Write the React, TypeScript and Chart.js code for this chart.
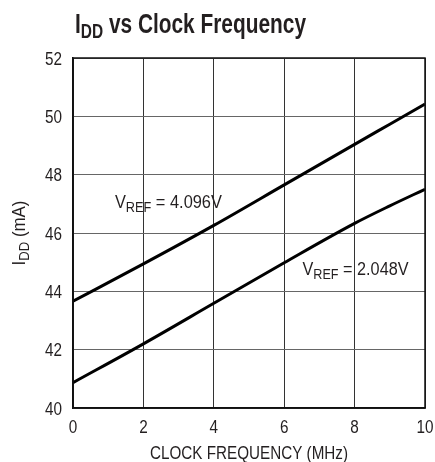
import React, { useEffect, useRef } from "react";
import { Chart, registerables } from "chart.js";
Chart.register(...registerables);

const freqMHz = [0, 2, 4, 6, 8, 9, 10];
const idd4096 = [43.66, 44.94, 46.26, 47.65, 49.04, 49.73, 50.42];
const idd2048 = [40.87, 42.2, 43.59, 44.98, 46.33, 46.93, 47.5];
const xTicks = [0, 2, 4, 6, 8, 10];
const yTicks = [40, 42, 44, 46, 48, 50, 52];

const FONT = '"Liberation Sans", Arial, sans-serif';

type Part = { t: string; sub?: boolean };

function drawParts(
  ctx: CanvasRenderingContext2D,
  x: number,
  y: number,
  parts: Part[],
  size: number,
  bold: boolean,
  opts: { sx?: number; target?: number; align?: "left" | "center" | "right"; subSize?: number; subDy?: number }
) {
  const subSize = opts.subSize ?? Math.round(size * 0.77);
  const subDy = opts.subDy ?? size * 0.22;
  const setFont = (p: Part) => {
    ctx.font = `${bold ? "bold " : ""}${p.sub ? subSize : size}px ${FONT}`;
  };
  let natural = 0;
  const widths = parts.map((p) => {
    setFont(p);
    const w = ctx.measureText(p.t).width;
    natural += w;
    return w;
  });
  const sx = opts.target ? opts.target / natural : opts.sx ?? 1;
  const total = natural * sx;
  const align = opts.align ?? "left";
  const start = align === "center" ? x - total / 2 : align === "right" ? x - total : x;
  ctx.save();
  ctx.translate(start, y);
  ctx.scale(sx, 1);
  ctx.textAlign = "left";
  ctx.textBaseline = "alphabetic";
  let cx = 0;
  parts.forEach((p, i) => {
    setFont(p);
    ctx.fillText(p.t, cx, p.sub ? subDy : 0);
    cx += widths[i];
  });
  ctx.restore();
}

const textPlugin = {
  id: "texts",
  afterDraw(chart: any) {
    const ctx = chart.ctx as CanvasRenderingContext2D;
    const xs = chart.scales.x;
    const ys = chart.scales.y;
    const area = chart.chartArea;
    ctx.save();
    ctx.fillStyle = "#231f20";
    // title
    drawParts(ctx, 75, 33, [{ t: "I" }, { t: "DD", sub: true }, { t: " vs Clock Frequency" }], 27, true, {
      target: 231,
      subSize: 20,
      subDy: 4.5,
    });
    // tick labels
    yTicks.forEach((v) => {
      drawParts(ctx, 62, ys.getPixelForValue(v) + 6.5, [{ t: String(v) }], 18, false, { sx: 0.85, align: "right" });
    });
    xTicks.forEach((v) => {
      drawParts(ctx, xs.getPixelForValue(v), 433, [{ t: String(v) }], 18, false, { sx: 0.85, align: "center" });
    });
    // curve labels
    drawParts(ctx, xs.getPixelForValue(1.19), ys.getPixelForValue(46.85), [{ t: "V" }, { t: "REF", sub: true }, { t: " = 4.096V" }], 18, false, {
      target: 107,
    });
    drawParts(ctx, xs.getPixelForValue(6.52), ys.getPixelForValue(44.55), [{ t: "V" }, { t: "REF", sub: true }, { t: " = 2.048V" }], 18, false, {
      target: 106,
    });
    // axis titles
    drawParts(ctx, (area.left + area.right) / 2, 459, [{ t: "CLOCK FREQUENCY (MHz)" }], 18, false, { target: 198, align: "center" });
    ctx.translate(25, (area.top + area.bottom) / 2);
    ctx.rotate(-Math.PI / 2);
    drawParts(ctx, 0, 0, [{ t: "I" }, { t: "DD", sub: true }, { t: " (mA)" }], 18, false, { target: 65, align: "center" });
    ctx.restore();
  },
};

export default function App() {
  const ref = useRef<HTMLCanvasElement>(null);
  useEffect(() => {
    const chart = new Chart(ref.current!, {
      type: "line",
      data: {
        datasets: [
          {
            data: freqMHz.map((x, i) => ({ x, y: idd4096[i] })),
            borderColor: "#000",
            borderWidth: 3,
            pointRadius: 0,
            cubicInterpolationMode: "monotone",
          },
          {
            data: freqMHz.map((x, i) => ({ x, y: idd2048[i] })),
            borderColor: "#000",
            borderWidth: 3,
            pointRadius: 0,
            cubicInterpolationMode: "monotone",
          },
        ],
      },
      options: {
        animation: false,
        responsive: false,
        plugins: { legend: { display: false }, tooltip: { enabled: false } },
        layout: { padding: { top: 58, right: 10, left: 0, bottom: 0 } },
        scales: {
          x: {
            type: "linear",
            min: 0,
            max: 10,
            afterBuildTicks: (s: any) => {
              s.ticks = xTicks.map((v) => ({ value: v }));
            },
            afterFit: (s: any) => {
              s.height = 54;
            },
            grid: { color: "#333", lineWidth: 1, drawTicks: false },
            border: { color: "#111", width: 1.5 },
            ticks: { display: false },
          },
          y: {
            type: "linear",
            min: 40,
            max: 52,
            afterBuildTicks: (s: any) => {
              s.ticks = yTicks.map((v) => ({ value: v }));
            },
            afterFit: (s: any) => {
              s.width = 73;
            },
            grid: { color: "#666", lineWidth: 1, drawTicks: false },
            border: { color: "#111", width: 1.5 },
            ticks: { display: false },
          },
        },
      },
      plugins: [
        textPlugin,
        {
          id: "frame",
          afterDatasetsDraw(c: any) {
            const { left, right, top, bottom } = c.chartArea;
            const ctx = c.ctx;
            ctx.save();
            ctx.strokeStyle = "#111";
            ctx.lineWidth = 1.5;
            ctx.strokeRect(left, top, right - left, bottom - top);
            ctx.restore();
          },
        },
      ],
    } as any);
    return () => chart.destroy();
  }, []);
  return (
    <div style={{ position: "fixed", left: 0, top: 0, width: 435, height: 462, background: "#fff" }}>
      <canvas ref={ref} width={435} height={462} style={{ display: "block" }} />
    </div>
  );
}
